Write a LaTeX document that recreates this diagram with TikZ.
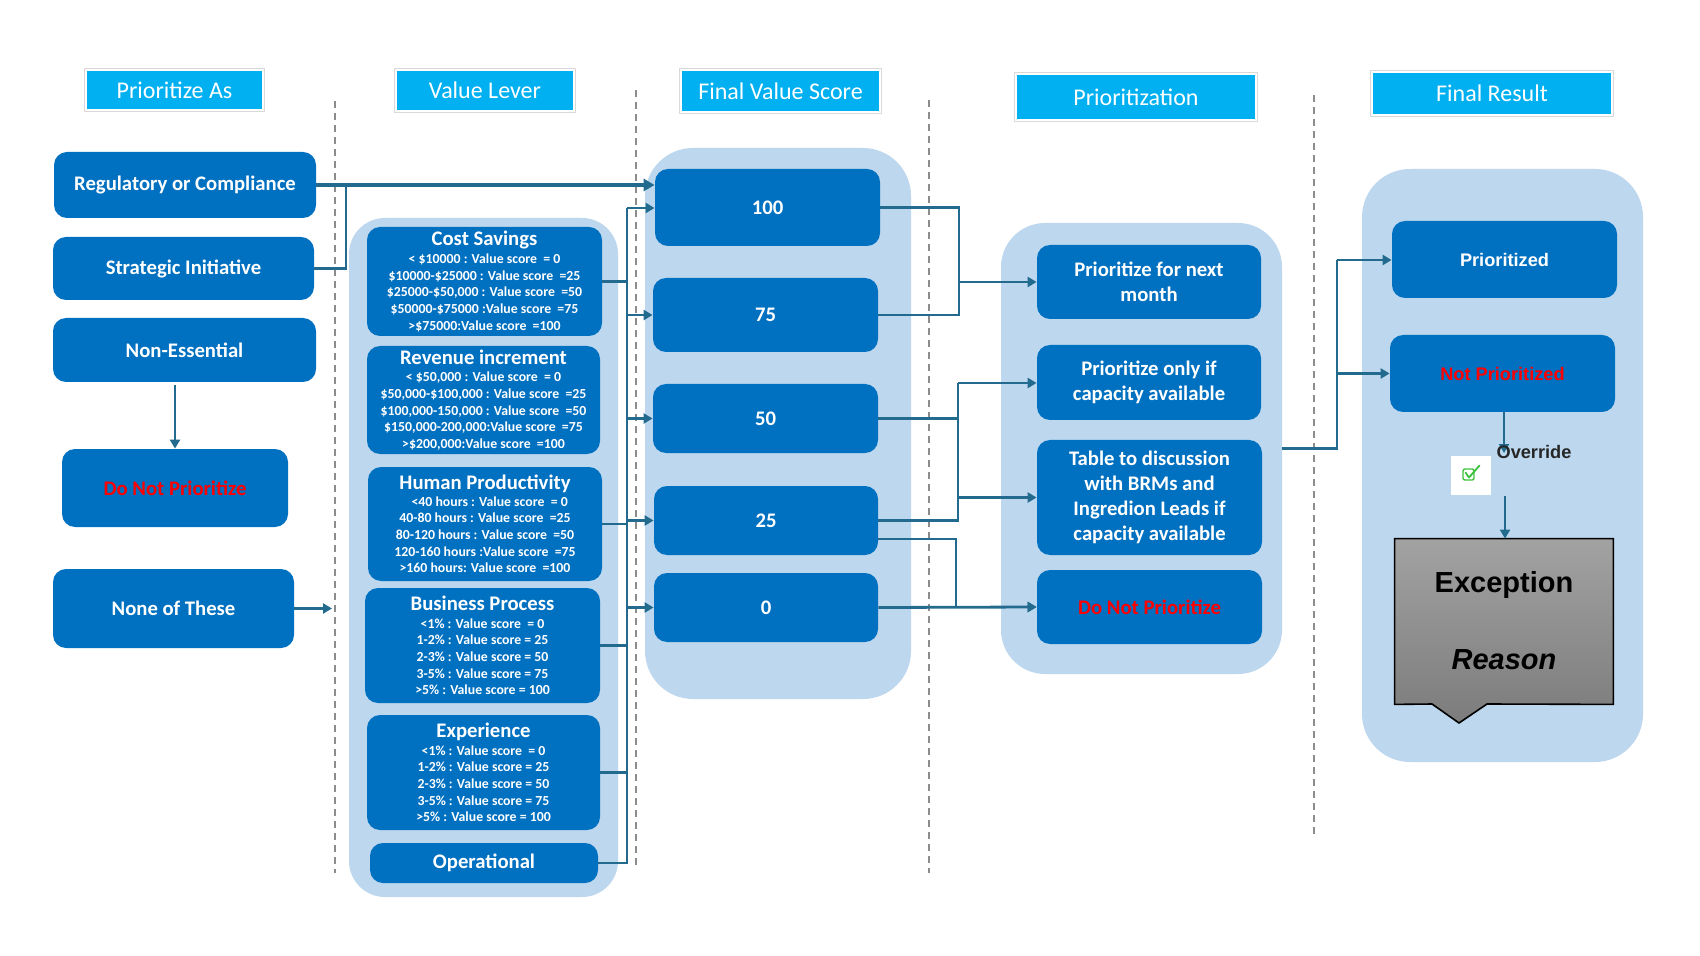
\documentclass[tikz,border=0pt]{standalone}
\usepackage{fontspec}
\setmainfont{Carlito}
\newfontfamily\arialf{Liberation Sans}
\usetikzlibrary{arrows.meta}
\definecolor{dblue}{HTML}{0070C0}
\definecolor{lblue}{HTML}{BDD7EE}
\definecolor{hdr}{HTML}{00B0F0}
\definecolor{lnk}{HTML}{226B8F}
\definecolor{dgray}{HTML}{8C8C8C}
\definecolor{excTop}{HTML}{A2A2A2}
\definecolor{excBot}{HTML}{7C7C7C}
\definecolor{chk}{HTML}{3CC23C}
\definecolor{redt}{HTML}{FF0000}
\begin{document}
\begin{tikzpicture}[x=0.5pt,y=-0.5pt,
  spanbox/.style args={(#1,#2)(#3,#4)}{at={({(#1+#3)/2},{(#2+#4)/2})}, minimum width={(#3-#1)*0.5pt}, minimum height={(#4-#2)*0.5pt}},
  hdrbox/.style={fill=hdr, draw=white, line width=1pt, preaction={draw=black!15, line width=2pt}, inner sep=0pt, text=white, font=\fontsize{12}{14}\selectfont},
  cont/.style={fill=lblue, draw=none, inner sep=0pt},
  dbox/.style={fill=dblue, draw=none, rounded corners=6.5pt, inner sep=0pt, text=white, align=center, font=\bfseries\fontsize{10.35}{12.6}\selectfont},
  lever/.style={dbox, font=\bfseries\fontsize{6.9}{8.35}\selectfont},
  abox/.style={dbox, font=\arialf\bfseries\fontsize{9.1}{11}\selectfont},
  link/.style={draw=lnk, line width=1.4pt},
  arr/.style={link, -{Triangle[length=4.5pt,width=5pt]}},
  dashln/.style={draw=dgray, line width=1pt, dash pattern=on 3.5pt off 2.5pt}
]
\useasboundingbox (0,0) rectangle (1700,956);
\fill[white] (0,0) rectangle (1700,956);

% dashed separators
\draw[dashln] (335,101) -- (335,873);
\draw[dashln] (636,90) -- (636,867);
\draw[dashln] (929,100) -- (929,873);
\draw[dashln] (1314,95) -- (1314,835);

% headers
\node[hdrbox, spanbox={(86,70)(263,110)}] (h1) {Prioritize As};
\node[hdrbox, spanbox={(396,70)(574,111)}] (h2) {Value Lever};
\node[hdrbox, spanbox={(681,70)(880,112)}] (h3) {Final Value Score};
\node[hdrbox, spanbox={(1016,74)(1256,120)}] (h4) {Prioritization};
\node[hdrbox, spanbox={(1372,72)(1612,115)}] (h5) {Final Result};

% containers
\node[cont, rounded corners=18pt, spanbox={(349,218)(618,897)}] (vlc) {};
\node[cont, rounded corners=24pt, spanbox={(645,148)(911,699)}] (fvc) {};
\node[cont, rounded corners=22pt, spanbox={(1001,223)(1282,674)}] (pc) {};
\node[cont, rounded corners=24pt, spanbox={(1362,169)(1643,762)}] (frc) {};

% left column
\node[dbox, spanbox={(54,152)(316,218)}] (reg) {Regulatory or Compliance};
\node[dbox, spanbox={(53,237)(314,300)}] (strat) {Strategic Initiative};
\node[dbox, spanbox={(53,318)(316,382)}] (ness) {Non-Essential};
\node[dbox, spanbox={(62,449)(288,527)}, text=redt] (dnp1) {Do Not Prioritize};
\node[dbox, spanbox={(53,569)(294,648)}] (none) {None of These};

% value levers
\node[lever, spanbox={(367,227)(602,336)}] (cs) {{\fontsize{10.35}{12}\selectfont Cost Savings}\\[0.4pt]
< \$10000 : Value score\ \ = 0\\
\$10000-\$25000 : Value score\ \ =25\\
\$25000-\$50,000 : Value score\ \ =50\\
\$50000-\$75000 :Value score\ \ =75\\
>\$75000:Value score\ \ =100};
\node[lever, spanbox={(367,346)(600,454)}] (rev) {{\fontsize{10.35}{12}\selectfont Revenue increment}\\[0.4pt]
< \$50,000 : Value score\ \ = 0\\
\$50,000-\$100,000 : Value score\ \ =25\\
\$100,000-150,000 : Value score\ \ =50\\
\$150,000-200,000:Value score\ \ =75\\
>\$200,000:Value score\ \ =100};
\node[lever, spanbox={(368,467)(602,581)}] (hp) {{\fontsize{10.35}{12}\selectfont Human Productivity}\\[0pt]
\ \ \ <40 hours : Value score\ \ = 0\\
40-80 hours : Value score\ \ =25\\
80-120 hours : Value score\ \ =50\\
120-160 hours :Value score\ \ =75\\
>160 hours: Value score\ \ =100};
\node[lever, spanbox={(365,588)(600,703)}] (bp) {{\fontsize{10.35}{12}\selectfont Business Process}\\[0.4pt]
<1\% : Value score\ \ = 0\\
1-2\% : Value score = 25\\
2-3\% : Value score = 50\\
3-5\% : Value score = 75\\
>5\% : Value score = 100};
\node[lever, spanbox={(367,715)(600,830)}] (exp) {{\fontsize{10.35}{12}\selectfont Experience}\\[0.4pt]
<1\% : Value score\ \ = 0\\
1-2\% : Value score = 25\\
2-3\% : Value score = 50\\
3-5\% : Value score = 75\\
>5\% : Value score = 100};
\node[dbox, spanbox={(370,843)(598,883)}] (op) {Operational};

% final value score
\node[dbox, spanbox={(655,169)(880,246)}] (s100) {100};
\node[dbox, spanbox={(653,278)(878,352)}] (s75) {75};
\node[dbox, spanbox={(653,384)(878,453)}] (s50) {50};
\node[dbox, spanbox={(654,486)(878,555)}] (s25) {25};
\node[dbox, spanbox={(654,573)(878,642)}] (s0) {0};

% prioritization
\node[dbox, spanbox={(1037,245)(1261,319)}] (pnm) {Prioritize for next\\month};
\node[dbox, spanbox={(1037,345)(1261,420)}] (po) {Prioritize only if\\capacity available};
\node[dbox, spanbox={(1037,440)(1262,555)}] (tbl) {Table to discussion\\with BRMs and\\Ingredion Leads if\\capacity available};
\node[dbox, spanbox={(1037,570)(1262,644)}, text=redt] (dnp2) {Do Not Prioritize};

% final result
\node[abox, spanbox={(1392,221)(1617,298)}] (pz) {Prioritized};
\node[abox, spanbox={(1390,335)(1615,412)}, text=redt] (npz) {Not Prioritized};
\node[inner sep=0pt, spanbox={(1395,539)(1613,704)}] (exc) {};
\draw[black, line width=0.8pt, top color=excTop, bottom color=excBot]
  (exc.north west) -- (exc.north east) -- (exc.south east) -- (1487,704) -- (1459,723) -- (1432,704) -- (exc.south west) -- cycle;
\node[font=\arialf\bfseries\fontsize{14.5}{16}\selectfont, text=black] (exct) at (1504,585) {Exception};
\node[font=\arialf\bfseries\itshape\fontsize{14.5}{16}\selectfont, text=black] (excr) at (1504,660) {Reason};

% checkbox icon
\node[fill=white, inner sep=0pt, spanbox={(1451,456)(1491,495)}] (chkbox) {};
\draw[chk, line width=0.7pt, rounded corners=1pt] (1463,469) rectangle (1474,480);
\draw[chk, line width=0.9pt, line cap=round, line join=round] (1465.5,472.5) -- (1469,477.5) -- (1479.5,465.5);

% connectors: left column
\draw[link, line width=2pt, -{Triangle[length=5.5pt,width=6pt]}] (reg.east) -- (reg.east -| s100.west);
\coordinate (j1) at (346,185);
\draw[link] (strat.east) -| (j1);
\draw[arr] (ness.south -| dnp1.north) ++(0,3) -- (dnp1.north);
\coordinate (nt) at (332,608);
\draw[arr] (none.east) -- (none.east -| nt);

% bus
\coordinate (bt) at (627,208);
\draw[link] (op.east) -| (bt);
\draw[link] (cs.east) -- (cs.east -| bt);
\draw[link] (hp.east) -- (hp.east -| bt);
\draw[link] (bp.east) -- (bp.east -| bt);
\draw[link] (exp.east) -- (exp.east -| bt);
\draw[arr] (bt) -- (bt -| s100.west);
\draw[arr] (bt |- s75.west) -- (s75.west);
\draw[arr] (bt |- s50.west) -- (s50.west);
\draw[arr] (bt |- s25.west) -- (s25.west);
\draw[arr] (bt |- s0.west) -- (s0.west);

% scores to prioritization
\coordinate (m1) at (959,282);
\draw[link] (s100.east) -| (m1 |- s75.east) -- (s75.east);
\draw[arr] (m1) -- (pnm.west);
\coordinate (m2) at (958,383);
\draw[link] (s50.east) -- (s50.east -| m2);
\draw[link] (m2) -- (m2 |- s25.east) -- (s25.east);
\draw[arr] (m2) -- (m2 -| po.west);
\draw[arr] (m2 |- tbl.west) -- (tbl.west);
\coordinate (m3) at (956,539);
\draw[arr] (s25.east |- m3) -- (m3) |- (dnp2.west);
\draw[arr] (s0.east) -- (dnp2.west);

% prioritization to final result
\coordinate (m4) at (1337,260);
\draw[link] (pc.east) -| (m4);
\draw[arr] (m4) -- (m4 -| pz.west);
\draw[arr] (m4 |- npz.west) -- (npz.west);

% override
\coordinate (ov) at (1504,453);
\draw[arr] (npz.south -| ov) -- (ov);
\node[font=\arialf\bfseries\fontsize{9.1}{11}\selectfont, text=black!85] (ovt) at (1534,452) {Override};
\coordinate (ov2) at (1505,496);
\draw[arr] (ov2) -- (ov2 |- exc.north);
\end{tikzpicture}
\end{document}
